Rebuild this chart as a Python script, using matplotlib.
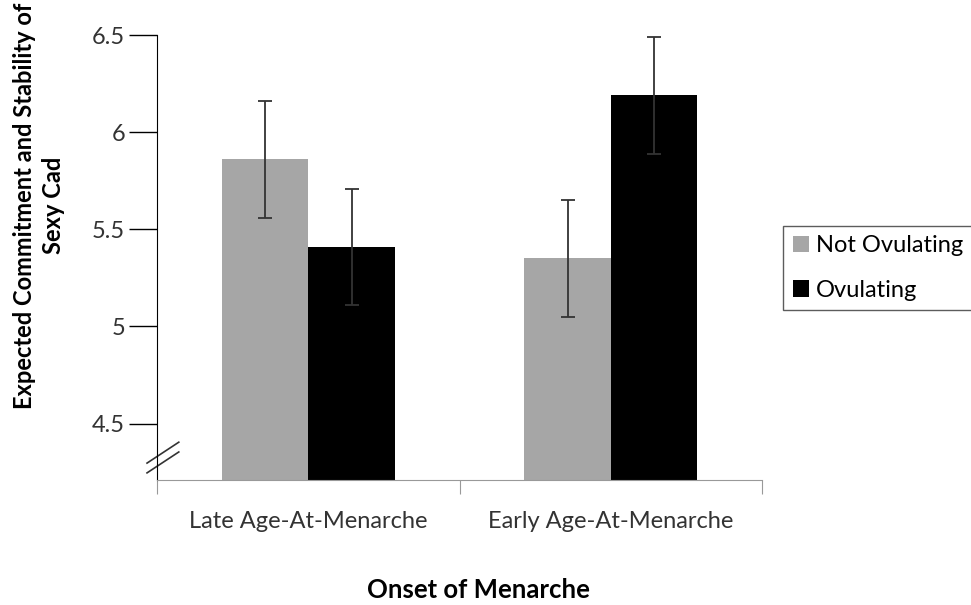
import numpy as np
import matplotlib.pyplot as plt

plt.rcParams['font.family'] = ['Lato', 'DejaVu Sans']

groups = ["Late Age-At-Menarche", "Early Age-At-Menarche"]
not_ovulating = [5.86, 5.35]
ovulating = [5.41, 6.19]
err_not = [0.30, 0.30]
err_ov = [0.30, 0.30]
yticks = [4.5, 5, 5.5, 6, 6.5]

fig = plt.figure(figsize=(9.71, 6.05), dpi=100)
ax = fig.add_axes([0.1617, 0.2066, 0.6231, 0.7355])

x = np.arange(len(groups))
w = 0.286
ekw = dict(ecolor="#333333", elinewidth=1.3, capsize=5, capthick=1.3)
ax.bar(x - w / 2, not_ovulating, w, color="#a6a6a6", label="Not Ovulating",
       yerr=err_not, error_kw=ekw, zorder=2)
ax.bar(x + w / 2, ovulating, w, color="#000000", label="Ovulating",
       yerr=err_ov, error_kw=ekw, zorder=2)

ax.set_xlim(-0.5, 1.5)
ax.set_ylim(4.21, 6.5)
ax.set_yticks(yticks)
ax.set_yticklabels(["4.5", "5", "5.5", "6", "6.5"])
ax.tick_params(axis="y", direction="out", length=20, width=1, color="black",
               labelsize=17, labelcolor="#333333", pad=3)

# category boundaries as x ticks, labels in between
ax.set_xticks([-0.5, 0.5, 1.5])
ax.set_xticklabels([])
ax.set_xticks(x, minor=True)
ax.set_xticklabels(groups, minor=True)
ax.tick_params(axis="x", which="major", direction="out", length=10, color="#999999")
ax.tick_params(axis="x", which="minor", length=0, labelsize=17,
               labelcolor="#333333", pad=22)

for s in ["top", "right"]:
    ax.spines[s].set_visible(False)
ax.spines["left"].set_color("black")
ax.spines["bottom"].set_color("#999999")

# axis break marks
ax.plot([-0.0165, 0.036], [0.038, 0.085], transform=ax.transAxes,
        color="#333333", lw=1.2, clip_on=False)
ax.plot([-0.0165, 0.036], [0.016, 0.063], transform=ax.transAxes,
        color="#333333", lw=1.2, clip_on=False)

fig.text(0.04, 0.66, "Expected Commitment and Stability of\nSexy Cad",
         rotation=90, ha="center", va="center", multialignment="center",
         fontsize=17, fontweight="bold", linespacing=1.3)
fig.text(0.493, 0.024, "Onset of Menarche", ha="center", va="center",
         fontsize=18.5, fontweight="bold")

leg = ax.legend(loc="center left", bbox_to_anchor=(1.035, 0.476), fontsize=17,
                frameon=True, fancybox=False, edgecolor="#333333",
                handlelength=0.7, handleheight=0.7, handletextpad=0.3,
                labelspacing=1.0, borderpad=0.4, borderaxespad=0)
leg.get_frame().set_linewidth(1)

fig.savefig("out.png", dpi=100)
